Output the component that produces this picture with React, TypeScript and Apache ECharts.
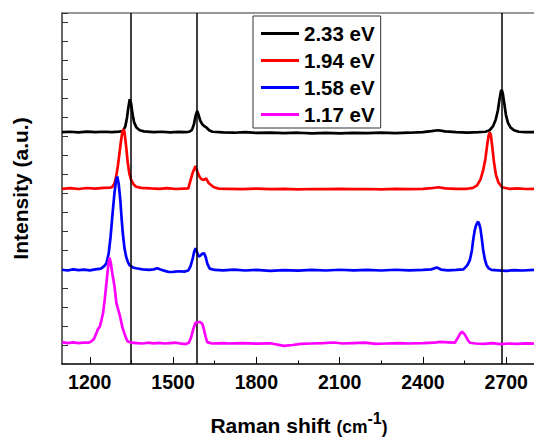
import React, { useEffect, useRef } from "react";
import * as echarts from "echarts";

const FONT = '"Liberation Sans", Arial, Helvetica, sans-serif';

const seriesNames = ["2.33 eV", "1.94 eV", "1.58 eV", "1.17 eV"];
const seriesColors = ["#000000", "#ff0000", "#0000ff", "#ff00ff"];

const majorTicks = [1200, 1500, 1800, 2100, 2400, 2700];
const minorTicks = [1350, 1650, 1950, 2250, 2550];
const guideLines = [1347, 1587, 2685];

const ev233: [number, number][] = [
  [1100, 12.2], [1130, 12.22], [1160, 12.19], [1190, 12.23], [1220, 12.2], [1250, 12.22], [1280, 12.2],
  [1305, 12.23], [1320, 12.26], [1328, 12.5], [1334, 12.95], [1339, 13.5], [1344, 13.93], [1349, 13.7],
  [1354, 13.15], [1360, 12.7], [1368, 12.45], [1380, 12.3], [1395, 12.24], [1430, 12.2], [1460, 12.22],
  [1490, 12.19], [1520, 12.21], [1545, 12.2], [1558, 12.22], [1568, 12.32], [1575, 12.6], [1581, 13.05],
  [1587, 13.32], [1592, 13.1], [1598, 12.8], [1605, 12.62], [1614, 12.5], [1622, 12.42], [1630, 12.3],
  [1642, 12.22], [1680, 12.19], [1720, 12.17], [1760, 12.2], [1800, 12.16], [1850, 12.18], [1900, 12.15],
  [1950, 12.17], [2000, 12.14], [2050, 12.16], [2100, 12.14], [2150, 12.16], [2200, 12.15], [2250, 12.17],
  [2300, 12.15], [2350, 12.17], [2400, 12.2], [2430, 12.25], [2455, 12.3], [2480, 12.24], [2520, 12.2],
  [2560, 12.18], [2600, 12.2], [2625, 12.22], [2640, 12.3], [2652, 12.5], [2662, 12.85], [2670, 13.35],
  [2676, 13.95], [2681, 14.35], [2684, 14.42], [2688, 14.2], [2693, 13.7], [2699, 13.1], [2706, 12.7],
  [2715, 12.45], [2728, 12.3], [2745, 12.22], [2770, 12.2], [2800, 12.2],
];

const ev194: [number, number][] = [
  [1100, 9.22], [1130, 9.25], [1160, 9.21], [1190, 9.26], [1220, 9.23], [1250, 9.27], [1270, 9.28],
  [1280, 9.3], [1289, 9.5], [1295, 9.86], [1301, 10.4], [1307, 11.09], [1313, 11.8], [1318, 12.25],
  [1321, 12.35], [1325, 12.2], [1330, 11.6], [1337, 10.56], [1343, 10.0], [1349, 9.68], [1358, 9.45],
  [1367, 9.33], [1385, 9.27], [1420, 9.24], [1450, 9.22], [1480, 9.25], [1510, 9.21], [1540, 9.23],
  [1555, 9.24], [1563, 9.68], [1572, 10.12], [1581, 10.42], [1588, 10.1], [1595, 9.86], [1603, 9.72],
  [1611, 9.68], [1619, 9.77], [1629, 9.51], [1647, 9.3], [1665, 9.23], [1700, 9.22], [1750, 9.2],
  [1800, 9.23], [1850, 9.2], [1900, 9.22], [1950, 9.19], [2000, 9.21], [2050, 9.2], [2100, 9.22],
  [2150, 9.2], [2200, 9.21], [2250, 9.19], [2300, 9.22], [2350, 9.2], [2400, 9.22], [2430, 9.25],
  [2456, 9.3], [2480, 9.24], [2520, 9.22], [2560, 9.22], [2580, 9.27], [2595, 9.4], [2607, 9.7],
  [2617, 10.2], [2625, 10.8], [2632, 11.6], [2637, 12.05], [2641, 12.19], [2645, 12.0], [2650, 11.4],
  [2656, 10.6], [2663, 9.95], [2672, 9.55], [2685, 9.3], [2710, 9.22], [2740, 9.24], [2770, 9.21],
  [2800, 9.22],
];

const ev158: [number, number][] = [
  [1100, 4.96], [1120, 4.92], [1140, 4.98], [1160, 4.94], [1180, 4.97], [1200, 4.93], [1220, 4.98],
  [1240, 5.02], [1252, 5.15], [1260, 5.3], [1268, 5.8], [1275, 6.7], [1282, 7.9], [1289, 9.0],
  [1295, 9.7], [1299, 9.86], [1304, 9.5], [1310, 8.63], [1315, 7.6], [1319, 6.88], [1325, 6.1],
  [1331, 5.65], [1337, 5.38], [1343, 5.2], [1355, 5.08], [1367, 5.04], [1390, 4.98], [1415, 4.95],
  [1430, 4.98], [1443, 5.04], [1455, 4.97], [1470, 4.9], [1485, 4.84], [1500, 4.85], [1520, 4.88],
  [1540, 4.86], [1555, 4.92], [1563, 5.15], [1570, 5.5], [1576, 5.9], [1581, 6.09], [1586, 5.9],
  [1592, 5.65], [1598, 5.7], [1605, 5.8], [1612, 5.83], [1618, 5.6], [1624, 5.25], [1632, 5.02],
  [1650, 4.95], [1680, 4.93], [1720, 4.97], [1760, 4.92], [1800, 4.95], [1850, 4.9], [1900, 4.94],
  [1950, 4.91], [2000, 4.95], [2050, 4.92], [2100, 4.96], [2150, 4.93], [2200, 4.95], [2250, 4.92],
  [2300, 4.96], [2350, 4.93], [2400, 4.95], [2430, 4.98], [2450, 5.08], [2465, 4.97], [2490, 4.93],
  [2520, 4.95], [2546, 4.98], [2560, 5.2], [2569, 5.47], [2576, 5.95], [2581, 6.53], [2586, 7.0],
  [2590, 7.23], [2595, 7.42], [2599, 7.49], [2603, 7.35], [2607, 7.14], [2612, 6.6], [2617, 6.0],
  [2623, 5.5], [2629, 5.21], [2637, 5.03], [2647, 4.95], [2670, 4.93], [2700, 4.9], [2730, 4.94],
  [2760, 4.92], [2800, 4.95],
];

const ev117: [number, number][] = [
  [1100, 1.15], [1120, 1.1], [1140, 1.14], [1160, 1.1], [1180, 1.13], [1195, 1.12], [1205, 1.18],
  [1215, 1.32], [1224, 1.63], [1230, 1.85], [1236, 1.96], [1242, 2.3], [1248, 2.68], [1254, 3.4],
  [1260, 4.26], [1266, 5.1], [1271, 5.6], [1276, 5.3], [1282, 4.7], [1289, 4.1], [1296, 3.2],
  [1303, 2.84], [1310, 2.45], [1318, 1.9], [1325, 1.6], [1331, 1.35], [1337, 1.18], [1350, 1.12],
  [1370, 1.1], [1390, 1.08], [1410, 1.12], [1430, 1.09], [1450, 1.11], [1470, 1.08], [1490, 1.1],
  [1510, 1.12], [1530, 1.07], [1545, 1.05], [1557, 1.12], [1565, 1.4], [1573, 1.85], [1581, 2.17],
  [1590, 2.2], [1598, 2.2], [1605, 2.12], [1610, 1.9], [1616, 1.5], [1623, 1.15], [1640, 1.08],
  [1680, 1.1], [1700, 1.08], [1750, 1.1], [1800, 1.07], [1850, 1.09], [1900, 0.95], [1930, 1.0],
  [1960, 1.06], [2000, 1.08], [2040, 1.1], [2080, 1.13], [2110, 1.08], [2150, 1.1], [2190, 1.12],
  [2230, 1.06], [2270, 1.08], [2310, 1.1], [2350, 1.08], [2400, 1.1], [2440, 1.12], [2462, 1.16],
  [2490, 1.14], [2515, 1.12], [2528, 1.44], [2535, 1.62], [2541, 1.7], [2548, 1.6], [2555, 1.44],
  [2562, 1.25], [2569, 1.12], [2590, 1.08], [2620, 1.06], [2650, 1.1], [2680, 1.05], [2710, 1.08],
  [2740, 1.06], [2770, 1.09], [2800, 1.07],
];

const seriesData = [ev233, ev194, ev158, ev117];

export default function App() {
  const ref = useRef<HTMLDivElement>(null);

  useEffect(() => {
    if (!ref.current) return;
    const chart = echarts.init(ref.current, undefined, { renderer: "svg" });

    const xBase = {
      type: "value" as const,
      min: 1100,
      max: 2800,
      splitLine: { show: false },
    };

    const series: any[] = seriesData.map((d, i) => ({
      name: seriesNames[i],
      type: "line",
      data: d,
      symbol: "none",
      showSymbol: false,
      xAxisIndex: 0,
      yAxisIndex: 0,
      lineStyle: { color: seriesColors[i], width: 2.7 },
      itemStyle: { color: seriesColors[i] },
      z: 2 + i,
    }));
    series.push({
      name: "guides",
      type: "line",
      data: [],
      symbol: "none",
      xAxisIndex: 0,
      yAxisIndex: 0,
      z: 10,
      markLine: {
        silent: true,
        symbol: "none",
        animation: false,
        label: { show: false },
        lineStyle: { color: "#000", width: 1.5, type: "solid" },
        data: guideLines.map((v) => ({ xAxis: v })),
      },
    });

    chart.setOption({
      animation: false,
      backgroundColor: "#fff",
      grid: { left: 62, top: 13, right: -4, bottom: 73, containLabel: false },
      xAxis: [
        {
          ...xBase,
          position: "bottom",
          axisLine: { show: true, onZero: false, lineStyle: { color: "#000", width: 1.5 } },
          axisTick: {
            show: true,
            inside: true,
            length: 7,
            customValues: majorTicks,
            lineStyle: { color: "#000", width: 1 },
          },
          axisLabel: {
            show: true,
            customValues: majorTicks,
            formatter: (v: number) => String(v),
            margin: 8,
            fontSize: 19.5,
            fontWeight: "bold",
            fontFamily: FONT,
            color: "#000",
          },
        },
        {
          ...xBase,
          position: "bottom",
          axisLine: { show: false },
          axisTick: {
            show: true,
            inside: true,
            length: 3.5,
            customValues: minorTicks,
            lineStyle: { color: "#000", width: 1 },
          },
          axisLabel: { show: false },
        },
        {
          ...xBase,
          position: "top",
          axisLine: { show: true, onZero: false, lineStyle: { color: "#777", width: 1.5 } },
          axisTick: { show: false },
          axisLabel: { show: false },
        },
      ],
      yAxis: {
        type: "value",
        min: 0,
        max: 18.47,
        interval: 1,
        splitLine: { show: false },
        axisLine: { show: true, onZero: false, lineStyle: { color: "#333", width: 1.5 } },
        axisTick: { show: true, inside: true, length: 6, lineStyle: { color: "#333", width: 1 } },
        axisLabel: { show: false },
      },
      legend: {
        data: seriesNames,
        orient: "vertical",
        left: 253,
        top: 16,
        padding: [7, 6, 3, 8],
        itemGap: 6,
        itemWidth: 38,
        itemHeight: 3,
        icon: "rect",
        borderColor: "#333",
        borderWidth: 1,
        selectedMode: false,
        textStyle: {
          fontSize: 20.5,
          lineHeight: 20.5,
          fontWeight: "bold",
          fontFamily: FONT,
          color: "#000",
        },
      },
      graphic: [
        {
          type: "text",
          x: 20.5,
          y: 188.5,
          rotation: Math.PI / 2,
          style: {
            text: "Intensity (a.u.)",
            fontSize: 21,
            fontWeight: "bold",
            fontFamily: FONT,
            fill: "#000",
            align: "center",
            verticalAlign: "middle",
          },
        },
        {
          type: "text",
          x: 299,
          y: 423,
          style: {
            text: "{a|Raman shift }{b|(cm}{c|-1}{b|)}",
            fill: "#000",
            align: "center",
            verticalAlign: "middle",
            fontFamily: FONT,
            fontWeight: "bold",
            rich: {
              a: { fontSize: 21, fontWeight: "bold", fontFamily: FONT, fill: "#000", verticalAlign: "bottom" },
              b: { fontSize: 17.5, fontWeight: "bold", fontFamily: FONT, fill: "#000", verticalAlign: "bottom" },
              c: {
                fontSize: 16,
                fontWeight: "bold",
                fontFamily: FONT,
                fill: "#000",
                verticalAlign: "bottom",
                padding: [0, 0, 9, 0],
              },
            },
          },
        },
      ],
      series,
    });

    return () => chart.dispose();
  }, []);

  return (
    <div
      ref={ref}
      style={{ position: "absolute", left: 0, top: 0, width: 534, height: 437, background: "#fff" }}
    />
  );
}
